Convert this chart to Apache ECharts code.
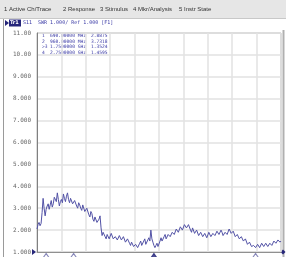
<!DOCTYPE html>
<html>
<head>
<meta charset="utf-8">
<script src="https://cdn.jsdelivr.net/npm/echarts@6/dist/echarts.min.js"></script>
<style>
  html, body { margin: 0; padding: 0; background: #fff; }
  #chart { width: 286px; height: 257px; }
</style>
</head>
<body>
<div id="chart"></div>
<script>
// sweep: 600 MHz .. 3 GHz, one reading every 10 MHz
const START_MHZ = 600;
const STEP_MHZ = 10;
const swrValues = [
  2.05, 2.25, 2.35, 2.20, 2.30, 2.80, 3.45, 3.00, 2.65, 2.95,
  3.10, 3.20, 2.95, 3.15, 3.35, 3.05, 3.20, 3.50, 3.45, 3.30,
  3.70, 3.40, 3.10, 3.30, 3.40, 3.25, 3.65, 3.45, 3.30, 3.55,
  3.70, 3.40, 3.25, 3.45, 3.40, 3.20, 3.15, 3.35, 3.35, 3.10,
  3.00, 3.25, 3.15, 3.00, 2.90, 3.15, 3.10, 2.85, 2.80, 3.00,
  2.95, 2.70, 2.60, 2.85, 2.75, 2.50, 2.40, 2.60, 2.55, 2.35,
  2.30, 2.50, 2.65, 2.10, 1.75, 1.90, 1.95, 1.70, 1.60, 1.80,
  1.85, 1.60, 1.65, 1.85, 1.80, 1.60, 1.55, 1.70, 1.75, 1.55,
  1.60, 1.75, 1.70, 1.55, 1.50, 1.70, 1.65, 1.45, 1.45, 1.60,
  1.55, 1.40, 1.30, 1.45, 1.40, 1.25, 1.20, 1.35, 1.35, 1.20,
  1.25, 1.40, 1.50, 1.30, 1.35, 1.50, 1.60, 1.35, 1.40, 1.55,
  1.65, 1.50, 2.00, 1.60, 1.45, 1.30, 1.20, 1.30, 1.40, 1.25,
  1.30, 1.50, 1.65, 1.50, 1.55, 1.70, 1.80, 1.60, 1.65, 1.80,
  1.85, 1.70, 1.75, 1.90, 1.95, 1.80, 1.85, 2.05, 2.10, 1.90,
  1.95, 2.15, 2.20, 2.00, 2.05, 2.25, 2.30, 2.10, 2.05, 2.25,
  2.20, 2.00, 1.90, 2.10, 2.05, 1.85, 1.80, 2.00, 1.95, 1.75,
  1.70, 1.90, 1.85, 1.70, 1.65, 1.85, 1.80, 1.65, 1.70, 1.90,
  1.85, 1.70, 1.65, 1.85, 1.90, 1.75, 1.75, 1.95, 1.95, 1.80,
  1.80, 2.00, 1.90, 1.75, 1.75, 1.90, 1.95, 1.80, 1.85, 2.05,
  2.00, 1.85, 1.80, 1.95, 1.90, 1.70, 1.65, 1.80, 1.75, 1.60,
  1.55, 1.70, 1.65, 1.50, 1.45, 1.60, 1.55, 1.35, 1.30, 1.45,
  1.40, 1.25, 1.20, 1.30, 1.35, 1.20, 1.20, 1.35, 1.30, 1.20,
  1.25, 1.40, 1.35, 1.25, 1.25, 1.40, 1.35, 1.25, 1.30, 1.40,
  1.45, 1.30, 1.35, 1.50, 1.55, 1.40, 1.40, 1.55, 1.60, 1.45,
  1.50
];
const markerNames = ['1', '2', '>3', '4'];
const markerFreqs = [690, 960, 1750, 2750];
const markerFreqText = ['690.00000 MHz', '960.00000 MHz', '1.7500000 GHz', '2.7500000 GHz'];
const markerValues = ['2.8875', '3.7318', '1.3524', '1.4595'];
const menuItems = ['1 Active Ch/Trace', '2 Response', '3 Stimulus', '4 Mkr/Analysis', '5 Instr State'];
const traceHeader = 'S11  SWR 1.000/ Ref 1.000 [F1]';

const TRACE = '#5252a6';
const MKTXT = '#3b3ba6';
const menuX = [4, 63, 100, 133, 179];

const chart = echarts.init(document.getElementById('chart'));

const tracePoints = swrValues.map((v, i) => [START_MHZ + i * STEP_MHZ, v]);
const markerPoints = markerFreqs.map((f, i) => ({
  value: [f, 1],
  itemStyle: i === 2
    ? { color: '#26267a', borderColor: '#26267a' }
    : { color: '#ffffff', borderColor: '#6a6aa8', borderWidth: 1 }
}));

const graphics = [
  { type: 'rect', shape: { x: 0, y: 0, width: 286, height: 18 }, style: { fill: '#e6e6e6' } },
  { type: 'line', shape: { x1: 0, y1: 18.5, x2: 286, y2: 18.5 }, style: { stroke: '#c8c8c8' } },
  { type: 'line', shape: { x1: 3.5, y1: 19, x2: 3.5, y2: 257 }, style: { stroke: '#9a9a9a' } },
  { type: 'line', shape: { x1: 283.5, y1: 30, x2: 283.5, y2: 257 }, style: { stroke: '#b0b0b0', lineWidth: 2 } },
  // trace header
  { type: 'polygon', shape: { points: [[5, 20], [9, 23], [5, 26]] }, style: { fill: '#26267a' } },
  { type: 'rect', shape: { x: 9, y: 19.5, width: 12, height: 7 }, style: { fill: '#26267a' } },
  { type: 'text', x: 10, y: 23, style: { text: 'Tr1', fill: '#fff', font: 'bold 5px DejaVu Sans', verticalAlign: 'middle' } },
  { type: 'text', x: 23, y: 23, style: { text: traceHeader, fill: MKTXT, font: '5px DejaVu Sans Mono', verticalAlign: 'middle' } },
  // reference level pointer & right end mark
  { type: 'polygon', shape: { points: [[32, 249], [36, 252], [32, 255]] }, style: { fill: '#26267a' } },
  { type: 'polygon', shape: { points: [[283, 249.5], [285.5, 252], [283, 254.5], [280.5, 252]] }, style: { fill: '#26267a' } }
];
menuItems.forEach((t, i) => {
  graphics.push({ type: 'text', x: menuX[i], y: 9.5,
    style: { text: t, fill: '#333', font: '6px Liberation Sans', verticalAlign: 'middle' } });
});
markerNames.forEach((n, i) => {
  const y = 36 + i * 5.5;
  const font = '4.6px DejaVu Sans Mono';
  graphics.push({ type: 'text', x: 42, y, style: { text: n, fill: MKTXT, font, verticalAlign: 'middle' } });
  graphics.push({ type: 'text', x: 50, y, style: { text: markerFreqText[i], fill: MKTXT, font, verticalAlign: 'middle' } });
  graphics.push({ type: 'text', x: 91, y, style: { text: markerValues[i], fill: MKTXT, font, verticalAlign: 'middle' } });
});

const option = {
  backgroundColor: '#fff',
  animation: false,
  grid: { left: 37, right: 5, top: 33, bottom: 5, show: true, borderColor: '#a0a0a0', borderWidth: 1 },
  xAxis: {
    type: 'value', min: 600, max: 3000, interval: 240,
    axisLabel: { show: false }, axisTick: { show: false },
    axisLine: { show: true, lineStyle: { color: '#909090' } },
    splitLine: { show: true, lineStyle: { color: '#e2e2e2', width: 1.5 } }
  },
  yAxis: {
    type: 'value', min: 1, max: 11, interval: 1,
    axisTick: { show: false },
    axisLine: { show: true, lineStyle: { color: '#808080' } },
    splitLine: { show: true, lineStyle: { color: '#e2e2e2', width: 1.5 } },
    axisLabel: {
      color: '#666', fontSize: 6, fontFamily: 'DejaVu Sans Mono', margin: 6,
      formatter: v => (v >= 10 ? v.toFixed(2) : v.toFixed(3))
    }
  },
  series: [
    {
      type: 'line', data: tracePoints, showSymbol: false,
      lineStyle: { color: TRACE, width: 1 }, z: 3
    },
    {
      type: 'scatter', data: markerPoints, symbol: 'triangle', symbolSize: [7, 5],
      symbolOffset: [0, 4], clip: false, z: 5
    }
  ],
  graphic: graphics
};
chart.setOption(option);
</script>
</body>
</html>
